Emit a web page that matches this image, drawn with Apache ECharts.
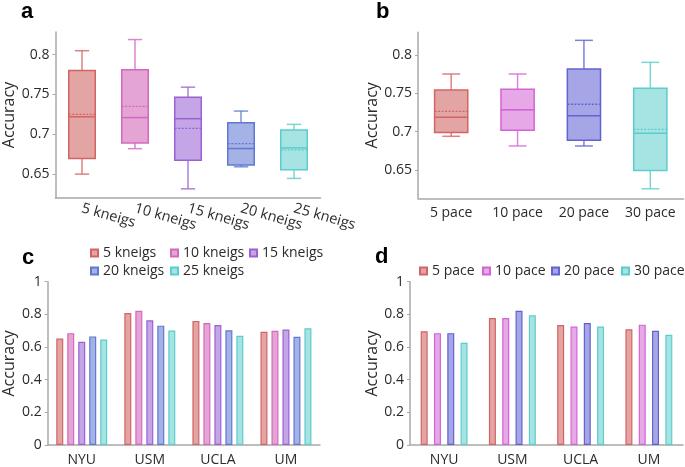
<!DOCTYPE html>
<html>
<head>
<meta charset="utf-8">
<script src="https://cdn.jsdelivr.net/npm/echarts@6/dist/echarts.min.js"></script>
<style>
html,body{margin:0;padding:0;background:#fff;}
#chart{width:685px;height:467px;}
</style>
</head>
<body>
<div id="chart"></div>
<script>
// ---- Data ----
const kneigCats = ['5 kneigs', '10 kneigs', '15 kneigs', '20 kneigs', '25 kneigs'];
// [min, q1, median, q3, max]
const kneigBox = [
  [0.650, 0.6696, 0.722, 0.780, 0.805],
  [0.682, 0.689, 0.721, 0.781, 0.819],
  [0.6315, 0.6675, 0.7196, 0.7467, 0.7592],
  [0.6592, 0.6613, 0.6821, 0.7146, 0.7292],
  [0.6446, 0.6554, 0.6829, 0.7054, 0.7125]
];
const kneigMean = [0.725, 0.735, 0.7075, 0.6883, 0.6804];

const paceCats = ['5 pace', '10 pace', '20 pace', '30 pace'];
const paceBox = [
  [0.6939, 0.6987, 0.7187, 0.7543, 0.7752],
  [0.6813, 0.7017, 0.7287, 0.7552, 0.7752],
  [0.6813, 0.6887, 0.7208, 0.7817, 0.8191],
  [0.6254, 0.6493, 0.6978, 0.7565, 0.7904]
];
const paceMean = [0.7265, 0.7285, 0.7357, 0.7030];

const sites = ['NYU', 'USM', 'UCLA', 'UM'];
const kneigs5 = [0.6525, 0.808, 0.760, 0.693];
const kneigs10 = [0.685, 0.822, 0.747, 0.699];
const kneigs15 = [0.632, 0.764, 0.735, 0.707];
const kneigs20 = [0.665, 0.731, 0.703, 0.663];
const kneigs25 = [0.646, 0.701, 0.669, 0.715];

const pace5 = [0.697, 0.778, 0.735, 0.709];
const pace10 = [0.685, 0.778, 0.725, 0.737];
const pace20 = [0.685, 0.822, 0.747, 0.699];
const pace30 = [0.626, 0.794, 0.725, 0.675];

const boxTicks = [0.65, 0.7, 0.75, 0.8];
const barTicks = [0, 0.2, 0.4, 0.6, 0.8, 1];

// ---- Styles ----
const kneigStroke = ['#d46464', '#d468c0', '#9c60d2', '#6078d2', '#5ccccc'];
const kneigFill = ['#e3a4a4', '#e4a5d4', '#c4a6e6', '#a4b2e6', '#a6e4e4'];
const paceStroke = ['#d46464', '#d264d6', '#6262d2', '#5ccccc'];
const paceFill = ['#e3a4a4', '#e6a8e6', '#a6a6e6', '#a6e4e4'];

const FONT = 'Open Sans';
const TXT = '#2b2b2b';
const AX = '#a8a8a8';

const chart = echarts.init(document.getElementById('chart'));

function boxRender(strokes, fills, means) {
  return function (params, api) {
    const idx = api.value(0);
    const band = api.size([1, 0])[0];
    const hb = band * 0.25;
    const hc = band * 0.135;
    const c = (v) => api.coord([idx, v]);
    const pMin = c(api.value(1)), pQ1 = c(api.value(2)), pMed = c(api.value(3)),
          pQ3 = c(api.value(4)), pMax = c(api.value(5)), pMean = c(means[idx]);
    const x = pMed[0];
    const s = strokes[idx], f = fills[idx];
    const wl = { stroke: s, lineWidth: 1.5, opacity: 0.8 };
    return {
      type: 'group',
      children: [
        { type: 'line', shape: { x1: x, y1: pQ3[1], x2: x, y2: pMax[1] }, style: wl },
        { type: 'line', shape: { x1: x, y1: pQ1[1], x2: x, y2: pMin[1] }, style: wl },
        { type: 'line', shape: { x1: x - hc, y1: pMax[1], x2: x + hc, y2: pMax[1] }, style: wl },
        { type: 'line', shape: { x1: x - hc, y1: pMin[1], x2: x + hc, y2: pMin[1] }, style: wl },
        { type: 'rect', shape: { x: x - hb, y: pQ3[1], width: 2 * hb, height: pQ1[1] - pQ3[1] },
          style: { fill: f, stroke: s, lineWidth: 1.5 } },
        { type: 'line', shape: { x1: x - hb, y1: pMed[1], x2: x + hb, y2: pMed[1] },
          style: { stroke: s, lineWidth: 1.5 } },
        { type: 'line', shape: { x1: x - hb, y1: pMean[1], x2: x + hb, y2: pMean[1] },
          style: { stroke: s, lineWidth: 1.3, lineDash: [2, 1.5] } }
      ]
    };
  };
}

function catAxis(gi, data, extraLabel) {
  return {
    type: 'category', gridIndex: gi, data: data,
    axisLine: { lineStyle: { color: AX, width: 1.5 } },
    axisTick: { alignWithLabel: true, interval: 0, length: 3, lineStyle: { color: AX } },
    axisLabel: Object.assign({ interval: 0, color: TXT, fontFamily: FONT, fontSize: 14, margin: 8 }, extraLabel || {})
  };
}
function valAxis(gi, min, max, ticks, gap) {
  return {
    type: 'value', gridIndex: gi, min: min, max: max,
    name: 'Accuracy', nameLocation: 'middle', nameRotate: 90, nameGap: gap,
    nameTextStyle: { color: TXT, fontFamily: FONT, fontSize: 16 },
    splitLine: { show: false },
    axisLine: { show: true, lineStyle: { color: AX, width: 1.5 } },
    axisTick: { show: true, length: 3, lineStyle: { color: AX }, customValues: ticks },
    axisLabel: { color: TXT, fontFamily: FONT, fontSize: 14, margin: 6, customValues: ticks }
  };
}

const kneigSeriesData = [kneigs5, kneigs10, kneigs15, kneigs20, kneigs25];
const paceSeriesData = [pace5, pace10, pace20, pace30];
const paceNames = paceCats;

const series = [
  {
    type: 'custom', name: 'boxA', xAxisIndex: 0, yAxisIndex: 0,
    renderItem: boxRender(kneigStroke, kneigFill, kneigMean),
    data: kneigBox.map((b, i) => [i].concat(b)),
    encode: { x: 0, y: [1, 2, 3, 4, 5] }
  },
  {
    type: 'custom', name: 'boxB', xAxisIndex: 1, yAxisIndex: 1,
    renderItem: boxRender(paceStroke, paceFill, paceMean),
    data: paceBox.map((b, i) => [i].concat(b)),
    encode: { x: 0, y: [1, 2, 3, 4, 5] }
  }
];
kneigCats.forEach((n, i) => {
  series.push({
    type: 'bar', name: n, xAxisIndex: 2, yAxisIndex: 2,
    data: kneigSeriesData[i], barWidth: 7, barGap: '57%',
    itemStyle: { color: kneigFill[i], borderColor: kneigStroke[i], borderWidth: 1.2 }
  });
});
paceNames.forEach((n, i) => {
  series.push({
    type: 'bar', name: n, xAxisIndex: 3, yAxisIndex: 3,
    data: paceSeriesData[i], barWidth: 7, barGap: '90%',
    itemStyle: { color: paceFill[i], borderColor: paceStroke[i], borderWidth: 1.2 }
  });
});

function leg(name, left, top) {
  return {
    data: [name], left: left, top: top, padding: 0, itemWidth: 7, itemHeight: 7,
    icon: 'rect', selectedMode: false,
    textStyle: { color: TXT, fontFamily: FONT, fontSize: 14 }
  };
}

const titleStyle = { fontFamily: 'Liberation Sans', fontWeight: 'bold', fontSize: 22, color: '#000' };

chart.setOption({
  animation: false,
  backgroundColor: '#fff',
  title: [
    { text: 'a', left: 21, top: 1, padding: 0, textStyle: titleStyle },
    { text: 'b', left: 376, top: 1, padding: 0, textStyle: titleStyle },
    { text: 'c', left: 22, top: 247, padding: 0, textStyle: titleStyle },
    { text: 'd', left: 375, top: 246, padding: 0, textStyle: titleStyle }
  ],
  legend: [
    leg('5 kneigs', 90, 246), leg('10 kneigs', 170, 246), leg('15 kneigs', 249, 246),
    leg('20 kneigs', 90, 264), leg('25 kneigs', 170, 264),
    leg('5 pace', 419, 264), leg('10 pace', 482, 264), leg('20 pace', 551, 264), leg('30 pace', 621, 264)
  ],
  grid: [
    { left: 55.5, top: 32, width: 265, height: 166 },
    { left: 418, top: 32.3, width: 265.5, height: 166 },
    { left: 47.7, top: 281.7, width: 272.3, height: 165 },
    { left: 410, top: 281.7, width: 273, height: 165 }
  ],
  xAxis: [
    catAxis(0, kneigCats, { rotate: -16, margin: 10, fontSize: 14.5 }),
    catAxis(1, paceCats),
    catAxis(2, sites),
    catAxis(3, sites)
  ],
  yAxis: [
    valAxis(0, 0.62, 0.8285, boxTicks, 38),
    valAxis(1, 0.613, 0.8296, boxTicks, 38),
    valAxis(2, 0, 1, barTicks, 30),
    valAxis(3, 0, 1, barTicks, 30)
  ],
  series: series
});
</script>
</body>
</html>
